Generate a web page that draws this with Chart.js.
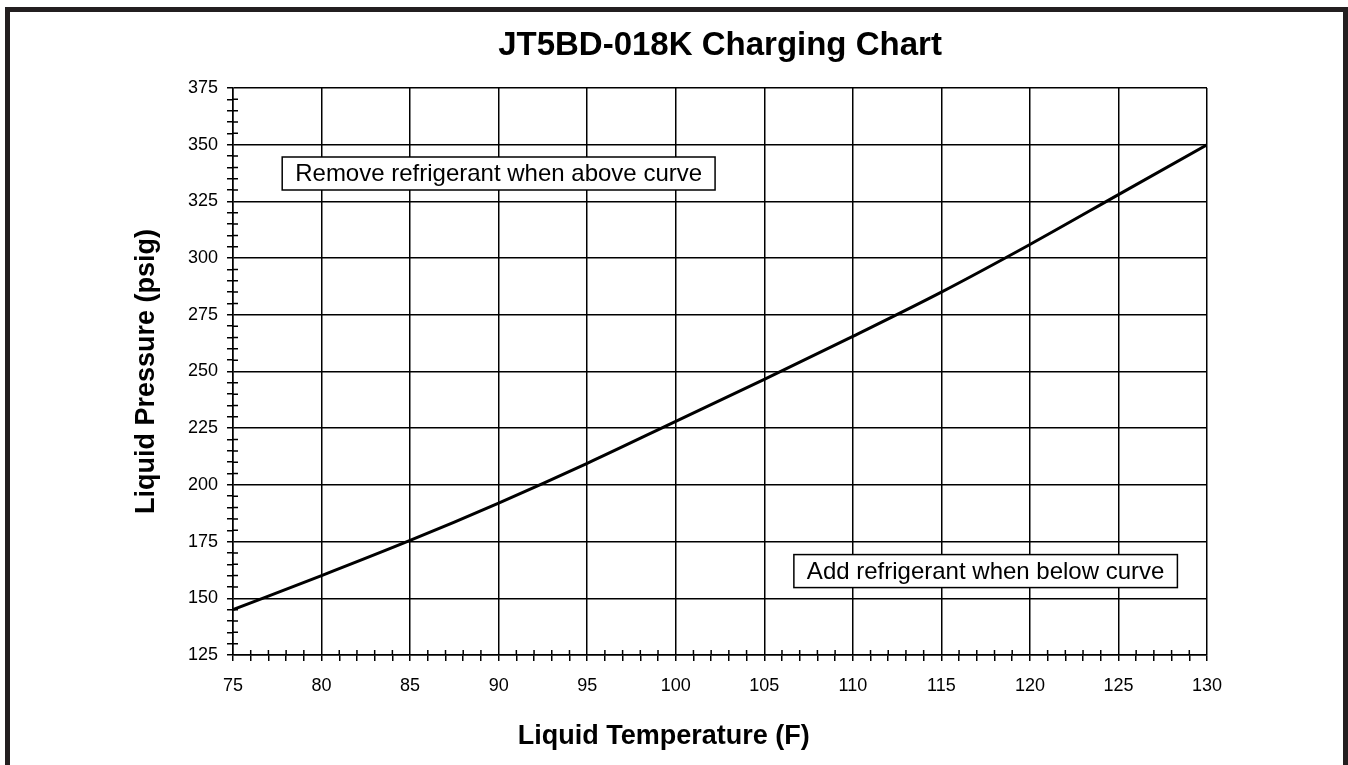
<!DOCTYPE html>
<html>
<head>
<meta charset="utf-8">
<script src="https://cdn.jsdelivr.net/npm/chart.js@4.4.1/dist/chart.umd.min.js"></script>
<style>
  html, body { margin: 0; padding: 0; background: #fff; }
  #wrap { position: relative; width: 1348px; height: 765px; overflow: hidden; }
  #frame { position: absolute; left: 5px; top: 7px; width: 1333px; height: 800px;
           border: 5px solid #231f20; pointer-events: none; }
</style>
</head>
<body>
<div id="wrap">
  <canvas id="c" width="1348" height="765"></canvas>
  <div id="frame"></div>
</div>
<script>
// ---- data ----
const temperatures = [75, 80, 85, 90, 95, 100, 105, 110, 115, 120, 125, 130];
const pressures    = [145, 160, 175.5, 192, 209.5, 228, 246.5, 265.5, 285, 306, 328, 350];
const xTickRange = [75, 130];
const yTickRange = [125, 375];
const noteTexts = ['Remove refrigerant when above curve', 'Add refrigerant when below curve'];
const noteTemps = [90, 117.5];
const notePressures = [337.3, 162];

const FONT = 'Liberation Sans, Arial, Helvetica, sans-serif';
const isMajorX = v => v % 5 === 0;
const isMajorY = v => v % 25 === 0;

const minorInnerTicks = {
  id: 'minorInnerTicks',
  afterDraw(chart) {
    const {ctx, chartArea, scales} = chart;
    ctx.save();
    ctx.strokeStyle = '#000';
    ctx.lineWidth = 1.5;
    ctx.beginPath();
    scales.x.ticks.forEach(t => {
      if (!isMajorX(t.value)) {
        const px = scales.x.getPixelForValue(t.value);
        ctx.moveTo(px, chartArea.bottom);
        ctx.lineTo(px, chartArea.bottom - 5);
      }
    });
    scales.y.ticks.forEach(t => {
      if (!isMajorY(t.value)) {
        const py = scales.y.getPixelForValue(t.value);
        ctx.moveTo(chartArea.left, py);
        ctx.lineTo(chartArea.left + 5, py);
      }
    });
    ctx.stroke();
    ctx.restore();
  }
};

const noteBoxes = {
  id: 'noteBoxes',
  afterDatasetsDraw(chart) {
    const {ctx, scales} = chart;
    ctx.save();
    ctx.font = '24px ' + FONT;
    ctx.textAlign = 'center';
    ctx.textBaseline = 'middle';
    noteTexts.forEach((txt, i) => {
      const cx = scales.x.getPixelForValue(noteTemps[i]);
      const cy = scales.y.getPixelForValue(notePressures[i]);
      const w = ctx.measureText(txt).width + 26;
      const h = 33;
      ctx.fillStyle = '#fff';
      ctx.fillRect(cx - w / 2, cy - h / 2, w, h);
      ctx.strokeStyle = '#000';
      ctx.lineWidth = 1.5;
      ctx.strokeRect(cx - w / 2, cy - h / 2, w, h);
      ctx.fillStyle = '#000';
      ctx.fillText(txt, cx, cy + 1);
    });
    ctx.restore();
  }
};

new Chart(document.getElementById('c'), {
  type: 'scatter',
  data: {
    datasets: [{
      data: temperatures.map((t, i) => ({x: t, y: pressures[i]})),
      showLine: true,
      borderColor: '#000',
      backgroundColor: '#000',
      borderWidth: 3,
      pointRadius: 0,
      cubicInterpolationMode: 'monotone'
    }]
  },
  options: {
    responsive: false,
    devicePixelRatio: 1,
    animation: false,
    layout: { padding: { left: 130, right: 141, top: 12, bottom: 12 } },
    plugins: {
      legend: { display: false },
      tooltip: { enabled: false },
      title: {
        display: true,
        text: 'JT5BD-018K Charging Chart',
        fullSize: false,
        color: '#000',
        font: { family: FONT, size: 33, weight: 'bold' },
        padding: { top: 14, bottom: 22.4 }
      }
    },
    scales: {
      x: {
        type: 'linear',
        min: xTickRange[0], max: xTickRange[1],
        afterFit: s => { s.height = 98; },
        ticks: {
          stepSize: 1, autoSkip: false, maxTicksLimit: 200, maxRotation: 0,
          padding: 14, color: '#000',
          font: { family: FONT, size: 18 },
          callback: v => isMajorX(v) ? String(v) : ''
        },
        grid: {
          color: c => isMajorX(c.tick.value) ? '#000' : 'rgba(0,0,0,0)',
          tickColor: '#000', lineWidth: 1.5, tickWidth: 1.5, tickLength: 6
        },
        border: { display: true, color: '#000', width: 1.5 },
        title: {
          display: true,
          text: 'Liquid Temperature (F)' + '\u00a0'.repeat(15),
          color: '#000',
          font: { family: FONT, size: 27, weight: 'bold' },
          padding: { top: 0, bottom: 0 }
        }
      },
      y: {
        type: 'linear',
        min: yTickRange[0], max: yTickRange[1],
        afterFit: s => { s.width = 103; },
        ticks: {
          stepSize: 5, autoSkip: false, maxTicksLimit: 200,
          padding: 9, color: '#000',
          font: { family: FONT, size: 18 },
          callback: v => isMajorY(v) ? String(v) : ''
        },
        grid: {
          color: c => isMajorY(c.tick.value) ? '#000' : 'rgba(0,0,0,0)',
          tickColor: '#000', lineWidth: 1.5, tickWidth: 1.5, tickLength: 6
        },
        border: { display: true, color: '#000', width: 1.5 },
        title: {
          display: true,
          text: 'Liquid Pressure (psig)',
          color: '#000',
          font: { family: FONT, size: 27, weight: 'bold' },
          padding: { top: 0, bottom: 0 }
        }
      }
    }
  },
  plugins: [minorInnerTicks, noteBoxes]
});
</script>
</body>
</html>
